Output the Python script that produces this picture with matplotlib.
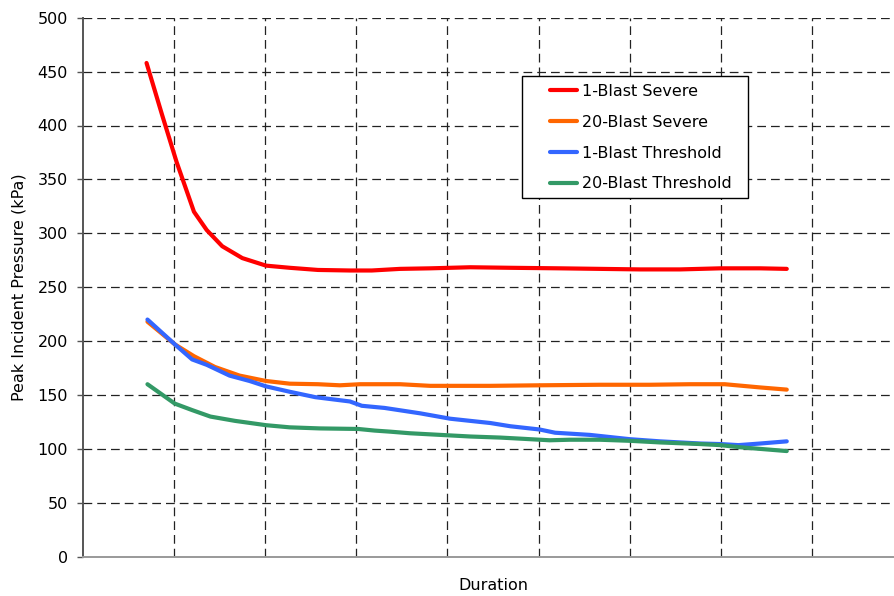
import matplotlib
matplotlib.use("Agg")
import matplotlib.pyplot as plt
from matplotlib.patches import Rectangle

plt.rcParams['font.family'] = ['DejaVu Sans']
plt.rcParams['font.size'] = 11.5

# ─── Data (duration in grid-cell units) ──────────────────────────────────────
severe_1_x = [0.70, 0.87, 1.03, 1.22, 1.36, 1.53, 1.75, 2.01, 2.27, 2.58, 2.93,
              3.17, 3.48, 3.81, 4.25, 4.69, 5.23, 5.67, 6.11, 6.55, 6.99, 7.43, 7.72]
severe_1_y = [458, 410, 366, 320, 303, 288, 277, 270, 268, 266, 265.5,
              265.5, 267, 267.5, 268.5, 268, 267.5, 267, 266.5, 266.5, 267.5, 267.5, 267]

severe_20_x = [0.71, 1.01, 1.22, 1.45, 1.72, 2.01, 2.27, 2.58, 2.82, 3.04,
               3.48, 3.81, 4.47, 5.01, 5.67, 6.22, 6.66, 7.04, 7.43, 7.72]
severe_20_y = [218, 197, 186, 176, 168, 163, 160.5, 160, 159, 160,
               160, 158.5, 158.5, 159, 159.5, 159.5, 160, 160, 157, 155]

thresh_1_x = [0.71, 1.01, 1.20, 1.36, 1.61, 1.83, 2.01, 2.27, 2.55, 2.93, 3.06, 3.31, 3.70,
              4.03, 4.47, 4.69, 5.01, 5.18, 5.56, 6.00, 6.33, 6.77, 6.99, 7.19, 7.43, 7.72]
thresh_1_y = [220, 197, 183, 178, 168, 163, 158, 153, 148, 144, 140, 138, 133,
              128, 124, 121, 118, 115, 113, 109, 107, 105, 104.5, 103.5, 105, 107]

thresh_20_x = [0.71, 1.01, 1.20, 1.40, 1.67, 2.01, 2.27, 2.60, 3.02, 3.20, 3.37, 3.59, 3.92,
               4.25, 4.58, 4.80, 5.12, 5.34, 5.67, 6.00, 6.33, 6.77, 6.99, 7.21, 7.43, 7.72]
thresh_20_y = [160, 142, 136, 130, 126, 122, 120, 119, 118.5, 117, 116, 114.5, 113,
               111.5, 110.5, 109.5, 108, 108.5, 108.5, 107.5, 106, 104.5, 103.5, 101.5, 100, 98]

series = [
    ("1-Blast Severe",     severe_1_x,  severe_1_y,  "#FF0000"),
    ("20-Blast Severe",    severe_20_x, severe_20_y, "#FF6600"),
    ("1-Blast Threshold",  thresh_1_x,  thresh_1_y,  "#3366FF"),
    ("20-Blast Threshold", thresh_20_x, thresh_20_y, "#339966"),
]

# ─── Plotting ────────────────────────────────────────────────────────────────
fig = plt.figure(figsize=(8.94, 5.96), dpi=100)
# axes runs a little past the right edge, as in the original
ax = fig.add_axes([82.7 / 894, 39.3 / 596, 9 * 91.2 / 894, 539 / 596])

for name, xs, ys, col in series:
    ax.plot(xs, ys, color=col, lw=3, label=name, solid_capstyle='round', zorder=3)

ax.set_xlim(0, 9)
ax.set_ylim(0, 500)
ax.set_yticks(range(0, 501, 50))
ax.set_xticks(range(1, 9))
ax.set_xticklabels([])
ax.tick_params(axis='x', length=0)
ax.tick_params(axis='y', direction='out', length=4.5, width=1, color='#555555',
               pad=6, labelsize=11.5)

ax.grid(True, color='#222222', lw=0.9, linestyle=(0, (7, 4)))
ax.set_axisbelow(True)

for s in ['top', 'right']:
    ax.spines[s].set_visible(False)
ax.spines['left'].set_color('#555555')
ax.spines['left'].set_linewidth(1.4)
ax.spines['bottom'].set_color('#999999')
ax.spines['bottom'].set_linewidth(1.4)

ax.set_ylabel("Peak Incident Pressure (kPa)", fontsize=11.5)
ax.yaxis.set_label_coords(-0.069, 0.5)
ax.set_xlabel("Duration", fontsize=11.5)
ax.xaxis.set_label_coords(0.5, -0.04)

# legend box drawn by hand so the padding matches
box = Rectangle((521.7 / 894, 1 - 197.7 / 596), 226.3 / 894, 122 / 596,
                transform=fig.transFigure, facecolor='white', edgecolor='black',
                lw=1.0, zorder=5)
ax.add_patch(box)
box.set_clip_on(False)
leg = ax.legend(loc='upper left', bbox_to_anchor=(541.7 / 894, 1 - 76 / 596),
                bbox_transform=fig.transFigure, frameon=False, borderpad=0,
                handlelength=1.7, handletextpad=0.3, labelspacing=0.99,
                fontsize=11.5)
leg.set_zorder(6)

fig.savefig("out.png", dpi=100)
